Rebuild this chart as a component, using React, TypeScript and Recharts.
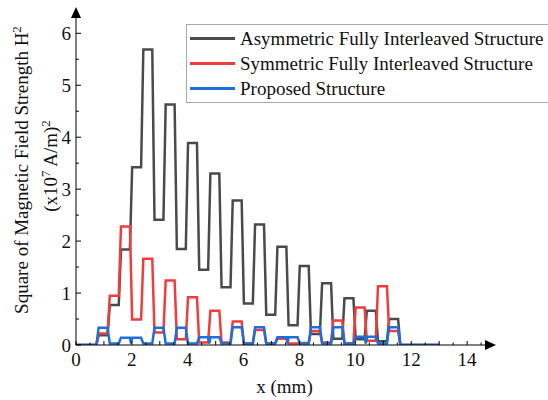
import { Label, Line, LineChart, XAxis, YAxis } from "recharts";

// segment edges along x (mm)
const segStart = [0.81, 1.21, 1.61, 2.01, 2.41, 2.81, 3.21, 3.61, 4.01, 4.41, 4.81, 5.21, 5.61, 6.01, 6.41, 6.81, 7.21, 7.61, 8.01, 8.41, 8.81, 9.21, 9.61, 10.01, 10.41, 10.81, 11.21];
const segEnd = [1.13, 1.53, 1.93, 2.33, 2.73, 3.13, 3.53, 3.93, 4.33, 4.73, 5.13, 5.53, 5.93, 6.33, 6.73, 7.13, 7.53, 7.93, 8.33, 8.73, 9.13, 9.53, 9.93, 10.33, 10.73, 11.13, 11.53];
const leadX = [0, 0.73];
const tailX = [11.61, 13];

// H^2 on each plateau, (x10^7 A/m)^2
const asymValues = [0.19, 0.77, 1.84, 3.42, 5.69, 2.41, 4.63, 1.85, 3.89, 1.45, 3.3, 1.11, 2.78, 0.8, 2.32, 0.58, 1.89, 0.38, 1.52, 0.21, 1.19, 0.12, 0.9, 0.11, 0.66, 0.07, 0.5];
const symValues = [0.22, 0.95, 2.28, 0.49, 1.66, 0.24, 1.24, 0.11, 0.92, 0.05, 0.66, 0.05, 0.45, 0.03, 0.29, 0.03, 0.12, 0.03, 0.04, 0.27, 0.05, 0.47, 0.03, 0.72, 0.08, 1.13, 0.27];
const proposedValues = [0.33, 0.03, 0.14, 0.14, 0.03, 0.33, 0.03, 0.33, 0.03, 0.15, 0.15, 0.03, 0.34, 0.03, 0.34, 0.03, 0.15, 0.15, 0.03, 0.34, 0.03, 0.34, 0.03, 0.16, 0.16, 0.03, 0.34];
// small dips between paired plateaus of the proposed structure
const proposedDipX = [1.97, 4.77, 7.57, 10.37];
const proposedDipValues = [0.03, 0.03, 0.03, 0.03];

const xTicks = [0, 0.5, 1, 1.5, 2, 2.5, 3, 3.5, 4, 4.5, 5, 5.5, 6, 6.5, 7, 7.5, 8, 8.5, 9, 9.5, 10, 10.5, 11, 11.5, 12, 12.5, 13, 13.5, 14, 14.5];
const xLabels = [0, 2, 4, 6, 8, 10, 12, 14];
const yTicks = [0, 0.5, 1, 1.5, 2, 2.5, 3, 3.5, 4, 4.5, 5, 5.5, 6];
const yLabels = [0, 1, 2, 3, 4, 5, 6];

const seriesNames = [
  "Asymmetric Fully Interleaved Structure",
  "Symmetric Fully Interleaved Structure",
  "Proposed Structure",
];
const seriesColors = ["#4a4a4a", "#f23c3c", "#1f6fd8"];

const FONT = '"Liberation Serif", "Times New Roman", serif';
const textStyle = { fontFamily: FONT, fontSize: 19 };
const Y_TICK_MARGIN = 5;
const X_TICK_MARGIN = 8;

const buildPoints = (values: number[], dipX: number[] = [], dipV: number[] = []) => {
  const pts: { x: number; y: number }[] = [];
  pts.push({ x: leadX[0], y: 0 }, { x: leadX[1], y: 0 });
  values.forEach((v, i) => {
    pts.push({ x: segStart[i], y: v });
    pts.push({ x: segEnd[i], y: v });
  });
  dipX.forEach((x, i) => pts.push({ x, y: dipV[i] }));
  pts.push({ x: tailX[0], y: 0 }, { x: tailX[1], y: 0 });
  return pts.sort((a, b) => a.x - b.x);
};

const asymData = buildPoints(asymValues);
const symData = buildPoints(symValues);
const proposedData = buildPoints(proposedValues, proposedDipX, proposedDipValues);

const YTick = (props: any) => {
  const { x, y, payload } = props;
  const axisX = x + Y_TICK_MARGIN;
  const major = yLabels.includes(payload.value);
  return (
    <g>
      <line x1={axisX} x2={axisX + (major ? 5 : 3)} y1={y} y2={y} stroke="#000" strokeWidth={1} />
      {major && (
        <text x={x} y={y} dy="0.35em" textAnchor="end" style={textStyle} fill="#111">
          {payload.value}
        </text>
      )}
    </g>
  );
};

const XTick = (props: any) => {
  const { x, y, payload } = props;
  const axisY = y - X_TICK_MARGIN;
  const major = Number.isInteger(payload.value);
  return (
    <g>
      <line x1={x} x2={x} y1={axisY} y2={axisY - (major ? 4 : 2.5)} stroke="#000" strokeWidth={1} />
      {xLabels.includes(payload.value) && (
        <text x={x} y={y} dy="0.71em" textAnchor="middle" style={textStyle} fill="#111">
          {payload.value}
        </text>
      )}
    </g>
  );
};

const YTitle = () => (
  <g style={textStyle} fill="#111">
    <text x={21.5} y={170} dy="0.35em" textAnchor="middle" transform="rotate(-90, 21.5, 170)">
      Square of Magnetic Field Strength H
      <tspan fontSize={13} dy="-0.55em">2</tspan>
    </text>
    <text x={50} y={166} dy="0.35em" textAnchor="middle" transform="rotate(-90, 50, 166)">
      (x10
      <tspan fontSize={13} dy="-0.55em">7</tspan>
      <tspan dy="0.4em"> A/m)</tspan>
      <tspan fontSize={13} dy="-0.55em">2</tspan>
    </text>
  </g>
);

const XTitle = (props: any) => {
  const { viewBox } = props;
  return (
    <text x={viewBox.x + viewBox.width / 2 + 4} y={393} textAnchor="middle" style={textStyle} fill="#111">
      x (mm)
    </text>
  );
};

export default function App() {
  return (
    <div style={{ position: "absolute", left: 0, top: 0, width: 548, height: 400, overflow: "hidden", background: "#fff" }}>
      <LineChart width={548} height={400} margin={{ top: 17.7, right: 63, bottom: 0, left: 0 }}>
        <XAxis
          type="number"
          dataKey="x"
          domain={[0, 14.64]}
          ticks={xTicks}
          interval={0}
          allowDataOverflow
          height={55}
          tickSize={0}
          tickMargin={X_TICK_MARGIN}
          axisLine={{ stroke: "#000", strokeWidth: 1 }}
          tickLine={false}
          tick={<XTick />}
        >
          <Label content={<XTitle />} />
        </XAxis>
        <YAxis
          type="number"
          domain={[0, 6.3]}
          ticks={yTicks}
          interval={0}
          allowDataOverflow
          width={76}
          tickSize={0}
          tickMargin={Y_TICK_MARGIN}
          axisLine={{ stroke: "#000", strokeWidth: 1 }}
          tickLine={false}
          tick={<YTick />}
        >
          <Label content={<YTitle />} />
        </YAxis>
        <Line data={asymData} dataKey="y" type="linear" stroke={seriesColors[0]} strokeWidth={2.5} dot={false} isAnimationActive={false} />
        <Line data={symData} dataKey="y" type="linear" stroke={seriesColors[1]} strokeWidth={2.5} dot={false} isAnimationActive={false} />
        <Line data={proposedData} dataKey="y" type="linear" stroke={seriesColors[2]} strokeWidth={2.5} dot={false} isAnimationActive={false} />
      </LineChart>

      {/* axis arrow heads */}
      <svg width={548} height={400} style={{ position: "absolute", left: 0, top: 0, pointerEvents: "none" }}>
        <polygon points="76,7 71,18 81,18" fill="#000" />
        <polygon points="496,345 485,340 485,350" fill="#000" />
      </svg>

      {/* legend box */}
      <div
        style={{
          position: "absolute",
          left: 186,
          top: 24,
          width: 380,
          height: 76,
          border: "1px solid #a8a8a8",
          background: "#fff",
          fontFamily: FONT,
          fontSize: 19,
          color: "#111",
          paddingTop: 1,
        }}
      >
        {seriesNames.map((name, i) => (
          <div key={name} style={{ display: "flex", alignItems: "center", height: 25, whiteSpace: "nowrap" }}>
            <div style={{ width: 45, height: 3, marginLeft: 3, background: seriesColors[i] }} />
            <span style={{ marginLeft: 5 }}>{name}</span>
          </div>
        ))}
      </div>
    </div>
  );
}
